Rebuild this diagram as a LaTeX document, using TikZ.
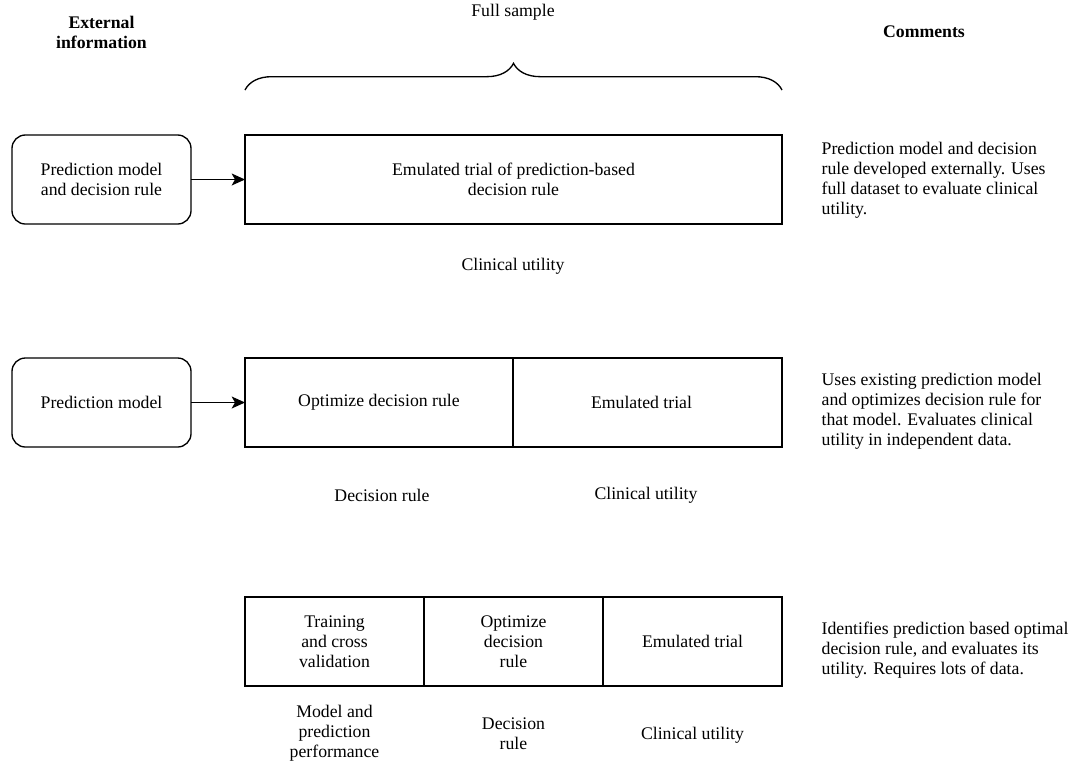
\documentclass[tikz,border=0pt]{standalone}
\usepackage{fontspec}
\setmainfont{Liberation Serif}
\usepackage{tikz}
\usetikzlibrary{arrows.meta}
\usetikzlibrary{positioning}
\usetikzlibrary{decorations.pathreplacing}

\begin{document}
\begin{tikzpicture}[x=0.75pt,y=-0.75pt,>={Stealth[length=10pt,width=9pt,inset=2.5pt]},
        font=\fontsize{13.3}{15}\selectfont, line width=1pt]
        \tikzset{extbox/.style={draw, rectangle, rounded corners=10pt, align=center, minimum width=134.25pt, minimum height=66.75pt, outer sep=0pt},
        cell/.style={draw, rectangle, align=center, minimum height=66.75pt, outer sep=0pt},
        lbl/.style={align=center, inner sep=0pt},
        head/.style={align=center, inner sep=0pt, font=\fontsize{13.3}{15}\selectfont\bfseries},
        note/.style={align=left, anchor=west, inner sep=0pt}
        }
        \useasboundingbox (0,0) rectangle (1073,765);

        %% headers
        \node [head] (exthead) at (101.5,32) {External\\information};
        \node [lbl] (fullhead) at (513,12) {Full sample};
        \node [head] (comhead) at (924,32) {Comments};
        \coordinate (bl) at (245,90);
        \coordinate (br) at (782,90);
        \draw [decorate, decoration={brace, amplitude=20pt}] (bl) -- (br);

        %% first row
        \node [extbox] (pm1) at (101.5,179.5) {Prediction model\\and decision rule};
        \node [cell, minimum width=402.75pt, right=40.5pt of pm1] (emu1) {Emulated trial of prediction-based\\decision rule};
        \node [lbl] (cu1) at (513,266) {Clinical utility};
        \node [note] (note1) at (821,180) {Prediction model and decision\\rule developed externally. Uses\\full dataset to evaluate clinical\\utility.};

        %% second row
        \node [extbox] (pm2) at (101.5,402.5) {Prediction model};
        \node [cell, minimum width=201pt, right=40.5pt of pm2] (opt2) {Optimize decision rule};
        \node [cell, minimum width=201.75pt, right=0pt of opt2] (emu2) {\hspace*{-9pt}Emulated trial};
        \node [lbl] (dr2) at (382,495) {Decision rule};
        \node [lbl] (cu2) at (646,495) {Clinical utility};
        \node [note] (note2) at (821,411) {Uses existing prediction model\\and optimizes decision rule for\\that model. Evaluates clinical\\utility in independent data.};

        %% third row
        \node [cell, minimum width=134.25pt] (tr3) at (334.5,641.5) {Training\\and cross\\validation};
        \node [cell, minimum width=134.25pt, right=0pt of tr3] (od3) {Optimize\\decision\\rule};
        \node [cell, minimum width=134.25pt, right=0pt of od3] (et3) {Emulated trial};
        \node [lbl] (mp3) at (334.5,733) {Model and\\prediction\\performance};
        \node [lbl] (dr3) at (513.5,734) {Decision\\rule};
        \node [lbl] (cu3) at (692.5,735) {Clinical utility};
        \node [note] (note3) at (821,650) {Identifies prediction based optimal\\decision rule, and evaluates its\\utility. Requires lots of data.};

%% paths
        \draw [->] (pm1) -- (emu1);
        \draw [->] (pm2) -- (opt2);
    \end{tikzpicture}
\end{document}
